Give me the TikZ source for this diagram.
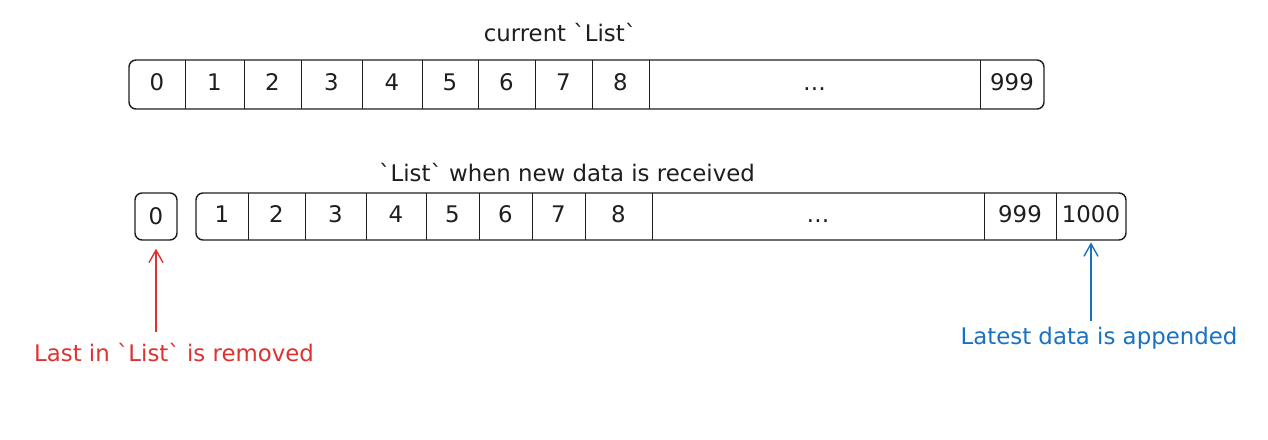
\documentclass[tikz,border=0pt]{standalone}
\usepackage{fontspec}
\setmainfont{DejaVu Sans}
\usetikzlibrary{arrows.meta}
\definecolor{ink}{HTML}{1E1E1E}
\definecolor{red}{HTML}{E03131}
\definecolor{blue}{HTML}{1971C2}

\begin{document}
\begin{tikzpicture}[
  font=\fontsize{13}{15}\selectfont,
  listbox/.style={rounded corners=4pt,draw=ink,line width=.8pt,inner sep=0pt,text=ink},
  cell/.style={inner sep=0pt,text=ink,text height=.73em,text depth=0pt},
  divider/.style={draw=ink,line width=.8pt},
  pointer/.style={-{Straight Barb[length=2.5mm,width=2.8mm]},line width=.8pt},
  caption/.style={text=ink}
]
\useasboundingbox (0,0) rectangle (25.36,8.8);

% current list
\node[caption] (toptitle) at (11.2,8.14) {current \textasciigrave List\textasciigrave};
\node[listbox,minimum width=18.3cm,minimum height=9.8mm] (toplist) at (11.73,7.11) {};
\foreach \l/\r/\lab/\nm in {2.58/3.70/0/t0,3.70/4.88/1/t1,4.88/6.02/2/t2,6.02/7.24/3/t3,7.24/8.44/4/t4,8.44/9.56/5/t5,9.56/10.70/6/t6,10.70/11.84/7/t7,11.84/12.98/8/t8,12.98/19.60/\dots/tdots,19.60/20.88/999/t999}
  \node[cell,minimum width={(\r-\l)*1cm},minimum height=9.8mm] (\nm) at ({(\l+\r)/2},7.11) {\lab};
\foreach \nm in {t0,t1,t2,t3,t4,t5,t6,t7,t8,tdots}
  \draw[divider] (\nm.north east) -- (\nm.south east);

% list after new data
\node[caption] (bottitle) at (11.34,5.34) {\textasciigrave List\textasciigrave{} when new data is received};
\node[listbox,minimum width=8.4mm,minimum height=9.4mm] (zero) at (3.12,4.47) {0};
\node[listbox,minimum width=18.6cm,minimum height=9.4mm] (newlist) at (13.22,4.47) {};
\foreach \l/\r/\lab/\nm in {3.92/4.96/1/n1,4.96/6.10/2/n2,6.10/7.32/3/n3,7.32/8.52/4/n4,8.52/9.58/5/n5,9.58/10.64/6/n6,10.64/11.70/7/n7,11.70/13.04/8/n8,13.04/19.68/\dots/ndots,19.68/21.12/999/n999,21.12/22.52/1000/n1000}
  \node[cell,minimum width={(\r-\l)*1cm},minimum height=9.4mm] (\nm) at ({(\l+\r)/2},4.47) {\lab};
\foreach \nm in {n1,n2,n3,n4,n5,n6,n7,n8,ndots,n999}
  \draw[divider] (\nm.north east) -- (\nm.south east);

% notes
\node[text=red] (removed) at (3.48,1.74) {Last in \textasciigrave List\textasciigrave{} is removed};
\node[text=blue] (appended) at (21.98,2.04) {Latest data is appended};
\draw[pointer,draw=red,shorten <=1mm,shorten >=1.6mm] (removed.north -| zero.south) -- (zero.south);
\draw[pointer,draw=blue,shorten >=.4mm] (appended.north -| n1000.south) -- (n1000.south);
\end{tikzpicture}
\end{document}
